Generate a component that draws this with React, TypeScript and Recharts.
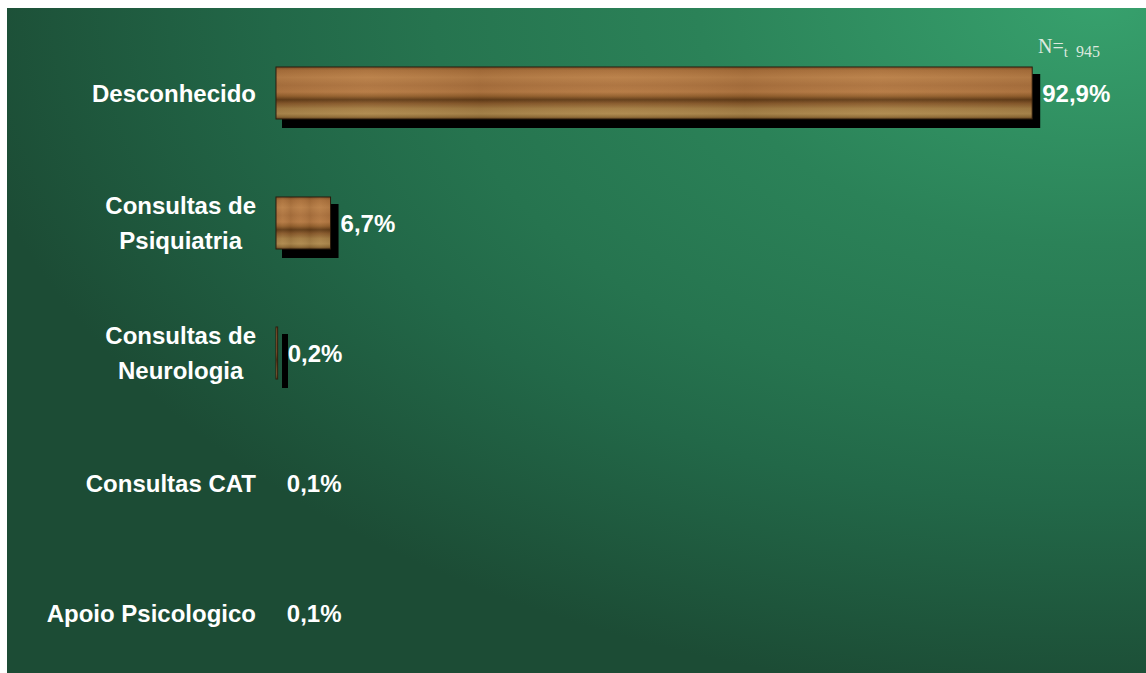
import React from 'react'
import { BarChart, Bar, XAxis, YAxis, LabelList } from 'recharts'

// origem do encaminhamento (% dos casos)
const categories = ['Desconhecido', 'Consultas de\nPsiquiatria', 'Consultas de\nNeurologia', 'Consultas CAT', 'Apoio Psicologico']
const percentages = [92.9, 6.7, 0.2, 0.1, 0.1]
const totalN = 945

const data = categories.map((name, i) => ({ name, value: percentages[i] }))

const FONT = '"Liberation Sans", Arial, sans-serif'

// the slide runs to the right/bottom edge of the window
if (typeof document !== 'undefined') document.body.style.margin = '8px 0 0 7px'

let ctx: CanvasRenderingContext2D | null = null
const measure = (s: string) => {
  if (!ctx) ctx = document.createElement('canvas').getContext('2d')
  if (!ctx) return s.length * 12
  ctx.font = `bold 24px ${FONT}`
  return ctx.measureText(s).width
}

const fmt = (v: number) => `${v.toFixed(1).replace('.', ',')}%`

const CategoryTick = ({ x, y, payload }: any) => {
  const lines = String(payload.value).split('\n')
  const lh = 35
  const top = -((lines.length - 1) * lh) / 2
  if (lines.length === 1) {
    return (
      <text x={x} y={y} dy="0.355em" textAnchor="end" fill="#fff" fontFamily={FONT} fontWeight="bold" fontSize={24}>
        {lines[0]}
      </text>
    )
  }
  const maxW = Math.max(...lines.map(measure))
  return (
    <text x={x - maxW / 2} y={y} textAnchor="middle" fill="#fff" fontFamily={FONT} fontWeight="bold" fontSize={24}>
      {lines.map((l, i) => (
        <tspan key={i} x={x - maxW / 2} dy={i === 0 ? top + 8.5 : lh}>{l}</tspan>
      ))}
    </text>
  )
}

const WoodBar = ({ x, y, width, height }: any) => {
  if (!width || width < 1) return null
  return (
    <g>
      <rect x={x + 6} y={y + 7} width={Math.max(width + 2, 6)} height={height + 2} fill="#000" />
      <rect x={x} y={y} width={width} height={height} fill="url(#wood)" stroke="#2a1a0c" strokeWidth={1} />
      <rect x={x} y={y} width={width} height={height} fill="url(#grain)" />
    </g>
  )
}

const ValueLabel = ({ x, y, width, height, value }: any) => (
  <text x={x + width + 10} y={y + height / 2} dy="0.355em" fill="#fff" fontFamily={FONT} fontWeight="bold" fontSize={24}>
    {fmt(value)}
  </text>
)

export default function App() {
  return (
    <div
      style={{
        position: 'relative',
        width: 1139,
        height: 665,
        overflow: 'hidden',
        background:
          'radial-gradient(1150px 700px at 1093px -8px, #37a16d 0%, #2b8258 35%, #26744f 58%, #226848 72%, #1c4c35 100%)',
      }}
    >
      <BarChart width={1139} height={670} data={data} layout="vertical" margin={{ top: 20, right: 56, left: 0, bottom: 0 }} barCategoryGap="30%">
        <defs>
          <linearGradient id="wood" x1="0" y1="0" x2="0" y2="1">
            <stop offset="0" stopColor="#7e4e26" />
            <stop offset="0.06" stopColor="#a86f3c" />
            <stop offset="0.2" stopColor="#b9804a" />
            <stop offset="0.35" stopColor="#ab7240" />
            <stop offset="0.48" stopColor="#b57a45" />
            <stop offset="0.56" stopColor="#93602f" />
            <stop offset="0.63" stopColor="#5e3a18" />
            <stop offset="0.7" stopColor="#85582c" />
            <stop offset="0.8" stopColor="#a37e46" />
            <stop offset="0.9" stopColor="#ad8a50" />
            <stop offset="0.96" stopColor="#8e6c38" />
            <stop offset="1" stopColor="#5e4020" />
          </linearGradient>
          <linearGradient id="grain" x1="0" y1="0" x2="1" y2="0">
            <stop offset="0" stopColor="#5a3510" stopOpacity={0.1} />
            <stop offset="0.12" stopColor="#e0b070" stopOpacity={0.08} />
            <stop offset="0.27" stopColor="#5a3510" stopOpacity={0.12} />
            <stop offset="0.45" stopColor="#e0b070" stopOpacity={0.06} />
            <stop offset="0.62" stopColor="#5a3510" stopOpacity={0.12} />
            <stop offset="0.8" stopColor="#e0b070" stopOpacity={0.08} />
            <stop offset="1" stopColor="#5a3510" stopOpacity={0.1} />
          </linearGradient>
        </defs>
        <XAxis type="number" domain={[0, 100]} hide />
        <YAxis
          type="category"
          dataKey="name"
          width={269}
          axisLine={false}
          tickLine={false}
          tickSize={0}
          tickMargin={20}
          tick={<CategoryTick />}
          interval={0}
        />
        <Bar dataKey="value" shape={<WoodBar />} isAnimationActive={false}>
          <LabelList dataKey="value" content={<ValueLabel />} />
        </Bar>
      </BarChart>
      <svg width={1139} height={665} style={{ position: 'absolute', left: 0, top: 0, pointerEvents: 'none' }}>
        <text x={1031} y={45} fill="#dde9df" fontFamily='"Liberation Serif", "Times New Roman", serif'>
          <tspan fontSize={20}>N=</tspan>
          <tspan fontSize={15} dy={4}>t</tspan>
          <tspan fontSize={16} dx={8}>{totalN}</tspan>
        </text>
      </svg>
    </div>
  )
}
